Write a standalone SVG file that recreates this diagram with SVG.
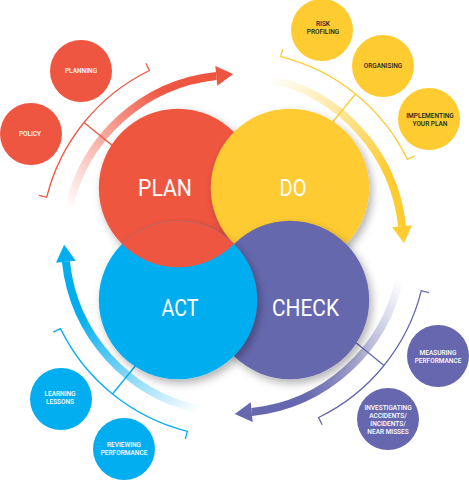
<svg xmlns="http://www.w3.org/2000/svg" width="469" height="480" viewBox="0 0 469 480">
<style>
.red{fill:#EF5641}.yel{fill:#FECB30}.pur{fill:#6667AE}.blu{fill:#02AEEF}
.big{font-family:Roboto,"Liberation Sans",sans-serif;font-size:23px;fill:#fff;text-anchor:middle}
.sm{font-family:Roboto,"Liberation Sans",sans-serif;font-size:6.5px;font-weight:500;fill:#fff;text-anchor:middle}
.dk{fill:#231f20}
.br{fill:none;stroke-width:1.3}
</style>
<defs>
<filter id="sh" x="-30%" y="-30%" width="160%" height="160%">
<feDropShadow dx="3" dy="4" stdDeviation="4" flood-color="#000" flood-opacity="0.3"/>
</filter>
<clipPath id="actClip"><circle cx="178" cy="300" r="79.2"/></clipPath>
<linearGradient id="gR" gradientUnits="userSpaceOnUse" x1="68.7" y1="208.9" x2="216.3" y2="75.9"><stop offset="0" stop-color="#EF5641" stop-opacity="0"/><stop offset="0.75" stop-color="#EF5641" stop-opacity="1"/></linearGradient>
<linearGradient id="gY" gradientUnits="userSpaceOnUse" x1="68.7" y1="208.9" x2="216.3" y2="75.9"><stop offset="0" stop-color="#FECB30" stop-opacity="0"/><stop offset="0.75" stop-color="#FECB30" stop-opacity="1"/></linearGradient>
<linearGradient id="gP" gradientUnits="userSpaceOnUse" x1="68.7" y1="208.9" x2="216.3" y2="75.9"><stop offset="0" stop-color="#6667AE" stop-opacity="0"/><stop offset="0.75" stop-color="#6667AE" stop-opacity="1"/></linearGradient>
<linearGradient id="gB" gradientUnits="userSpaceOnUse" x1="68.7" y1="208.9" x2="216.3" y2="75.9"><stop offset="0" stop-color="#02AEEF" stop-opacity="0"/><stop offset="0.75" stop-color="#02AEEF" stop-opacity="1"/></linearGradient>
<path id="arc" d="M68.7,208.9 A169,169 0 0 1 216.3,75.9" fill="none" stroke-width="8"/>
<polygon id="head" points="215.3,66 233.2,74.1 217.3,85.8"/>
<path id="brk" d="M39,195.4 L46.7,197.3 A193,193 0 0 1 149.4,70.5 L145.9,63.3 M84,122.5 L113.5,146.5"/>
</defs>
<rect width="469" height="480" fill="#fff"/>

<g id="connectors">
<g id="arrow-plan"><use href="#arc" stroke="url(#gR)"/><use href="#head" class="red"/></g>
<g id="arrow-do" transform="rotate(90 234 244)"><use href="#arc" stroke="url(#gY)"/><use href="#head" class="yel"/></g>
<g id="arrow-check" transform="rotate(180 234 244)"><use href="#arc" stroke="url(#gP)"/><use href="#head" class="pur"/></g>
<g id="arrow-act" transform="rotate(270 234 244)"><use href="#arc" stroke="url(#gB)"/><use href="#head" class="blu"/></g>
<use href="#brk" class="br" stroke="#EF5641"/>
<use href="#brk" class="br" stroke="#FECB30" transform="rotate(90 234 244)"/>
<use href="#brk" class="br" stroke="#6667AE" transform="rotate(180 234 244)"/>
<use href="#brk" class="br" stroke="#02AEEF" transform="rotate(270 234 244)"/>
</g>

<g id="plan"><circle class="red" cx="178" cy="188" r="79.2" filter="url(#sh)"/></g>
<g id="do"><circle class="yel" cx="290" cy="188" r="79.2" filter="url(#sh)"/></g>
<g id="check"><circle class="pur" cx="290" cy="300" r="79.2" filter="url(#sh)"/></g>
<g id="act"><circle class="blu" cx="178" cy="300" r="79.2" filter="url(#sh)"/></g>
<g id="plan-over-act" clip-path="url(#actClip)"><circle class="red" cx="178" cy="188" r="79.2"/></g>
<g id="big-labels">
<text class="big" x="165" y="195.5" textLength="54" lengthAdjust="spacingAndGlyphs">PLAN</text>
<text class="big" x="293" y="195.5" textLength="27" lengthAdjust="spacingAndGlyphs">DO</text>
<text class="big" x="180" y="315.5" textLength="37" lengthAdjust="spacingAndGlyphs">ACT</text>
<text class="big" x="305.5" y="315.5" textLength="67" lengthAdjust="spacingAndGlyphs">CHECK</text>
</g>

<g id="planning"><circle class="red" cx="81" cy="71" r="31"/><text class="sm" x="81" y="72.5">PLANNING</text></g>
<g id="policy"><circle class="red" cx="31" cy="134" r="31"/><text class="sm" x="30" y="136">POLICY</text></g>
<g id="risk-profiling"><circle class="yel" cx="322" cy="30" r="31"/><text class="sm dk" x="323" y="26">RISK</text><text class="sm dk" x="323" y="34">PROFILING</text></g>
<g id="organising"><circle class="yel" cx="383" cy="66" r="31"/><text class="sm dk" x="383" y="68">ORGANISING</text></g>
<g id="implementing"><circle class="yel" cx="429" cy="119" r="31"/><text class="sm dk" x="430" y="118">IMPLEMENTING</text><text class="sm dk" x="430" y="126">YOUR PLAN</text></g>
<g id="learning"><circle class="blu" cx="61" cy="399" r="31"/><text class="sm" x="60" y="396">LEARNING</text><text class="sm" x="60" y="404">LESSONS</text></g>
<g id="reviewing"><circle class="blu" cx="124" cy="449" r="31"/><text class="sm" x="124" y="447">REVIEWING</text><text class="sm" x="124" y="455">PERFORMANCE</text></g>
<g id="measuring"><circle class="pur" cx="438" cy="356" r="31"/><text class="sm" x="438" y="354.5">MEASURING</text><text class="sm" x="438" y="362.5">PERFORMANCE</text></g>
<g id="investigating"><circle class="pur" cx="388" cy="419" r="31"/><text class="sm" x="388" y="409.5">INVESTIGATING</text><text class="sm" x="388" y="417.5">ACCIDENTS/</text><text class="sm" x="388" y="426">INCIDENTS/</text><text class="sm" x="388" y="434">NEAR MISSES</text></g>
</svg>
